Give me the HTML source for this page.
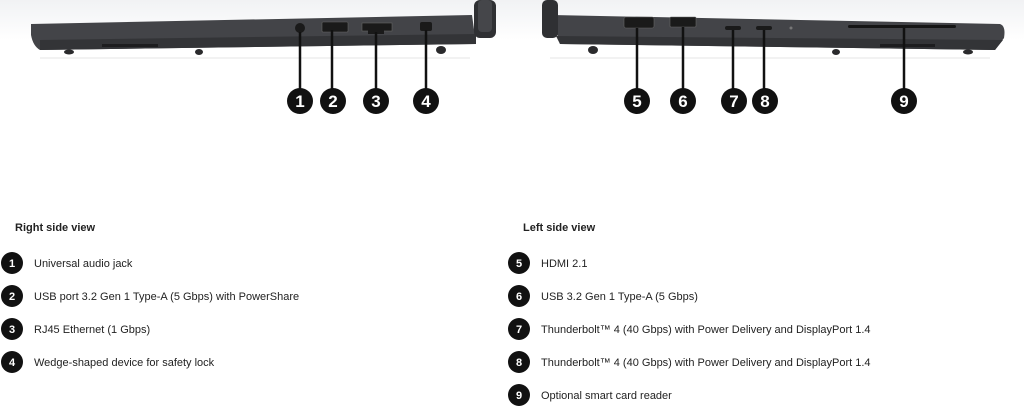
<!DOCTYPE html>
<html><head><meta charset="utf-8"><style>
body{margin:0;width:1024px;height:420px;background:#fff;overflow:hidden;font-family:"Liberation Sans",sans-serif;}
svg{position:absolute;left:0;top:0}
</style></head><body>
<svg width="1024" height="420" viewBox="0 0 1024 420">
<defs><linearGradient id="bg" x1="0" y1="0" x2="0" y2="1"><stop offset="0" stop-color="#f1f2f4"/><stop offset="1" stop-color="#fff"/></linearGradient></defs>
<rect x="0" y="0" width="1024" height="40" fill="url(#bg)"/>
<line x1="40" y1="58" x2="470" y2="58" stroke="#e6e6e6"/>
<line x1="550" y1="58" x2="990" y2="58" stroke="#e6e6e6"/>
<!-- left laptop -->
<path d="M31 24 L472 15 L476 44 L40 50 Q33 46 31 35 Z" fill="#434448"/>
<path d="M40 40 L476 34 L476 44 L40 50 Z" fill="#333437"/>
<rect x="474" y="0" width="22" height="38" rx="6" fill="#2f3033"/>
<rect x="478" y="0" width="14" height="32" rx="4" fill="#45464a"/>
<rect x="102" y="44" width="56" height="3" fill="#1d1d1f"/>
<ellipse cx="69" cy="52" rx="5" ry="2.5" fill="#2a2a2c"/><ellipse cx="199" cy="52" rx="4" ry="3" fill="#2a2a2c"/><ellipse cx="441" cy="50" rx="5" ry="4" fill="#2a2a2c"/>
<circle cx="300" cy="28" r="5" fill="#1a1a1a"/>
<rect x="322" y="22" width="26" height="10" rx="1" fill="#1a1a1a" stroke="#666" stroke-width="0.6"/>
<rect x="362" y="23" width="30" height="8" fill="#1a1a1a" stroke="#666" stroke-width="0.6"/><rect x="368" y="29" width="16" height="5" fill="#1a1a1a"/>
<rect x="420" y="22" width="12" height="9" rx="2" fill="#1a1a1a"/>
<!-- right laptop -->
<path d="M552 15 L1000 24 Q1006 26 1004 38 L995 50 L560 44 Z" fill="#434448"/>
<path d="M556 36 L1003 40 L995 50 L560 44 Z" fill="#333437"/>
<rect x="542" y="0" width="16" height="38" rx="5" fill="#2f3033"/>
<rect x="624" y="17" width="30" height="11" rx="2" fill="#1a1a1a" stroke="#666" stroke-width="0.6"/>
<rect x="670" y="17" width="26" height="10" rx="1" fill="#1a1a1a" stroke="#666" stroke-width="0.6"/>
<rect x="725" y="26" width="16" height="4" rx="2" fill="#1a1a1a"/>
<rect x="756" y="26" width="16" height="4" rx="2" fill="#1a1a1a"/>
<circle cx="791" cy="28" r="1.5" fill="#777"/>
<rect x="848" y="25" width="108" height="3" rx="1.5" fill="#151515"/>
<rect x="880" y="44" width="55" height="3" fill="#1d1d1f"/>
<ellipse cx="593" cy="50" rx="5" ry="4" fill="#2a2a2c"/><ellipse cx="836" cy="52" rx="4" ry="3" fill="#2a2a2c"/><ellipse cx="968" cy="52" rx="5" ry="2.5" fill="#2a2a2c"/>
<g stroke="#111" stroke-width="2.5">
<line x1="300" y1="32" x2="300" y2="92"/><line x1="332" y1="30" x2="332" y2="92"/><line x1="376" y1="32" x2="376" y2="92"/><line x1="426" y1="30" x2="426" y2="92"/>
<line x1="637" y1="28" x2="637" y2="92"/><line x1="683" y1="27" x2="683" y2="92"/><line x1="733" y1="30" x2="733" y2="92"/><line x1="764" y1="30" x2="764" y2="92"/><line x1="904" y1="28" x2="904" y2="92"/>
</g>
<g fill="#111">
<circle cx="300" cy="101" r="13"/><circle cx="333" cy="101" r="13"/><circle cx="376" cy="101" r="13"/><circle cx="426" cy="101" r="13"/>
<circle cx="637" cy="101" r="13"/><circle cx="683" cy="101" r="13"/><circle cx="734" cy="101" r="13"/><circle cx="765" cy="101" r="13"/><circle cx="904" cy="101" r="13"/>
</g>
<g fill="#fff" font-size="17" font-weight="bold" text-anchor="middle" font-family="Liberation Sans">
<text x="300" y="107">1</text><text x="333" y="107">2</text><text x="376" y="107">3</text><text x="426" y="107">4</text>
<text x="637" y="107">5</text><text x="683" y="107">6</text><text x="734" y="107">7</text><text x="765" y="107">8</text><text x="904" y="107">9</text>
</g>
<g font-size="11" fill="#222" font-family="Liberation Sans">
<text x="15" y="231" font-weight="bold">Right side view</text>
<text x="523" y="231" font-weight="bold">Left side view</text>
<text x="34" y="267">Universal audio jack</text>
<text x="34" y="300">USB port 3.2 Gen 1 Type-A (5 Gbps) with PowerShare</text>
<text x="34" y="333">RJ45 Ethernet (1 Gbps)</text>
<text x="34" y="366">Wedge-shaped device for safety lock</text>
<text x="541" y="267">HDMI 2.1</text>
<text x="541" y="300">USB 3.2 Gen 1 Type-A (5 Gbps)</text>
<text x="541" y="333">Thunderbolt™ 4 (40 Gbps) with Power Delivery and DisplayPort 1.4</text>
<text x="541" y="366">Thunderbolt™ 4 (40 Gbps) with Power Delivery and DisplayPort 1.4</text>
<text x="541" y="399">Optional smart card reader</text>
</g>
<g fill="#111">
<circle cx="12" cy="263" r="11"/><circle cx="12" cy="296" r="11"/><circle cx="12" cy="329" r="11"/><circle cx="12" cy="362" r="11"/>
<circle cx="519" cy="263" r="11"/><circle cx="519" cy="296" r="11"/><circle cx="519" cy="329" r="11"/><circle cx="519" cy="362" r="11"/><circle cx="519" cy="395" r="11"/>
</g>
<g fill="#fff" font-size="11" font-weight="bold" text-anchor="middle" font-family="Liberation Sans">
<text x="12" y="267">1</text><text x="12" y="300">2</text><text x="12" y="333">3</text><text x="12" y="366">4</text>
<text x="519" y="267">5</text><text x="519" y="300">6</text><text x="519" y="333">7</text><text x="519" y="366">8</text><text x="519" y="399">9</text>
</g>
</svg>
</body></html>
